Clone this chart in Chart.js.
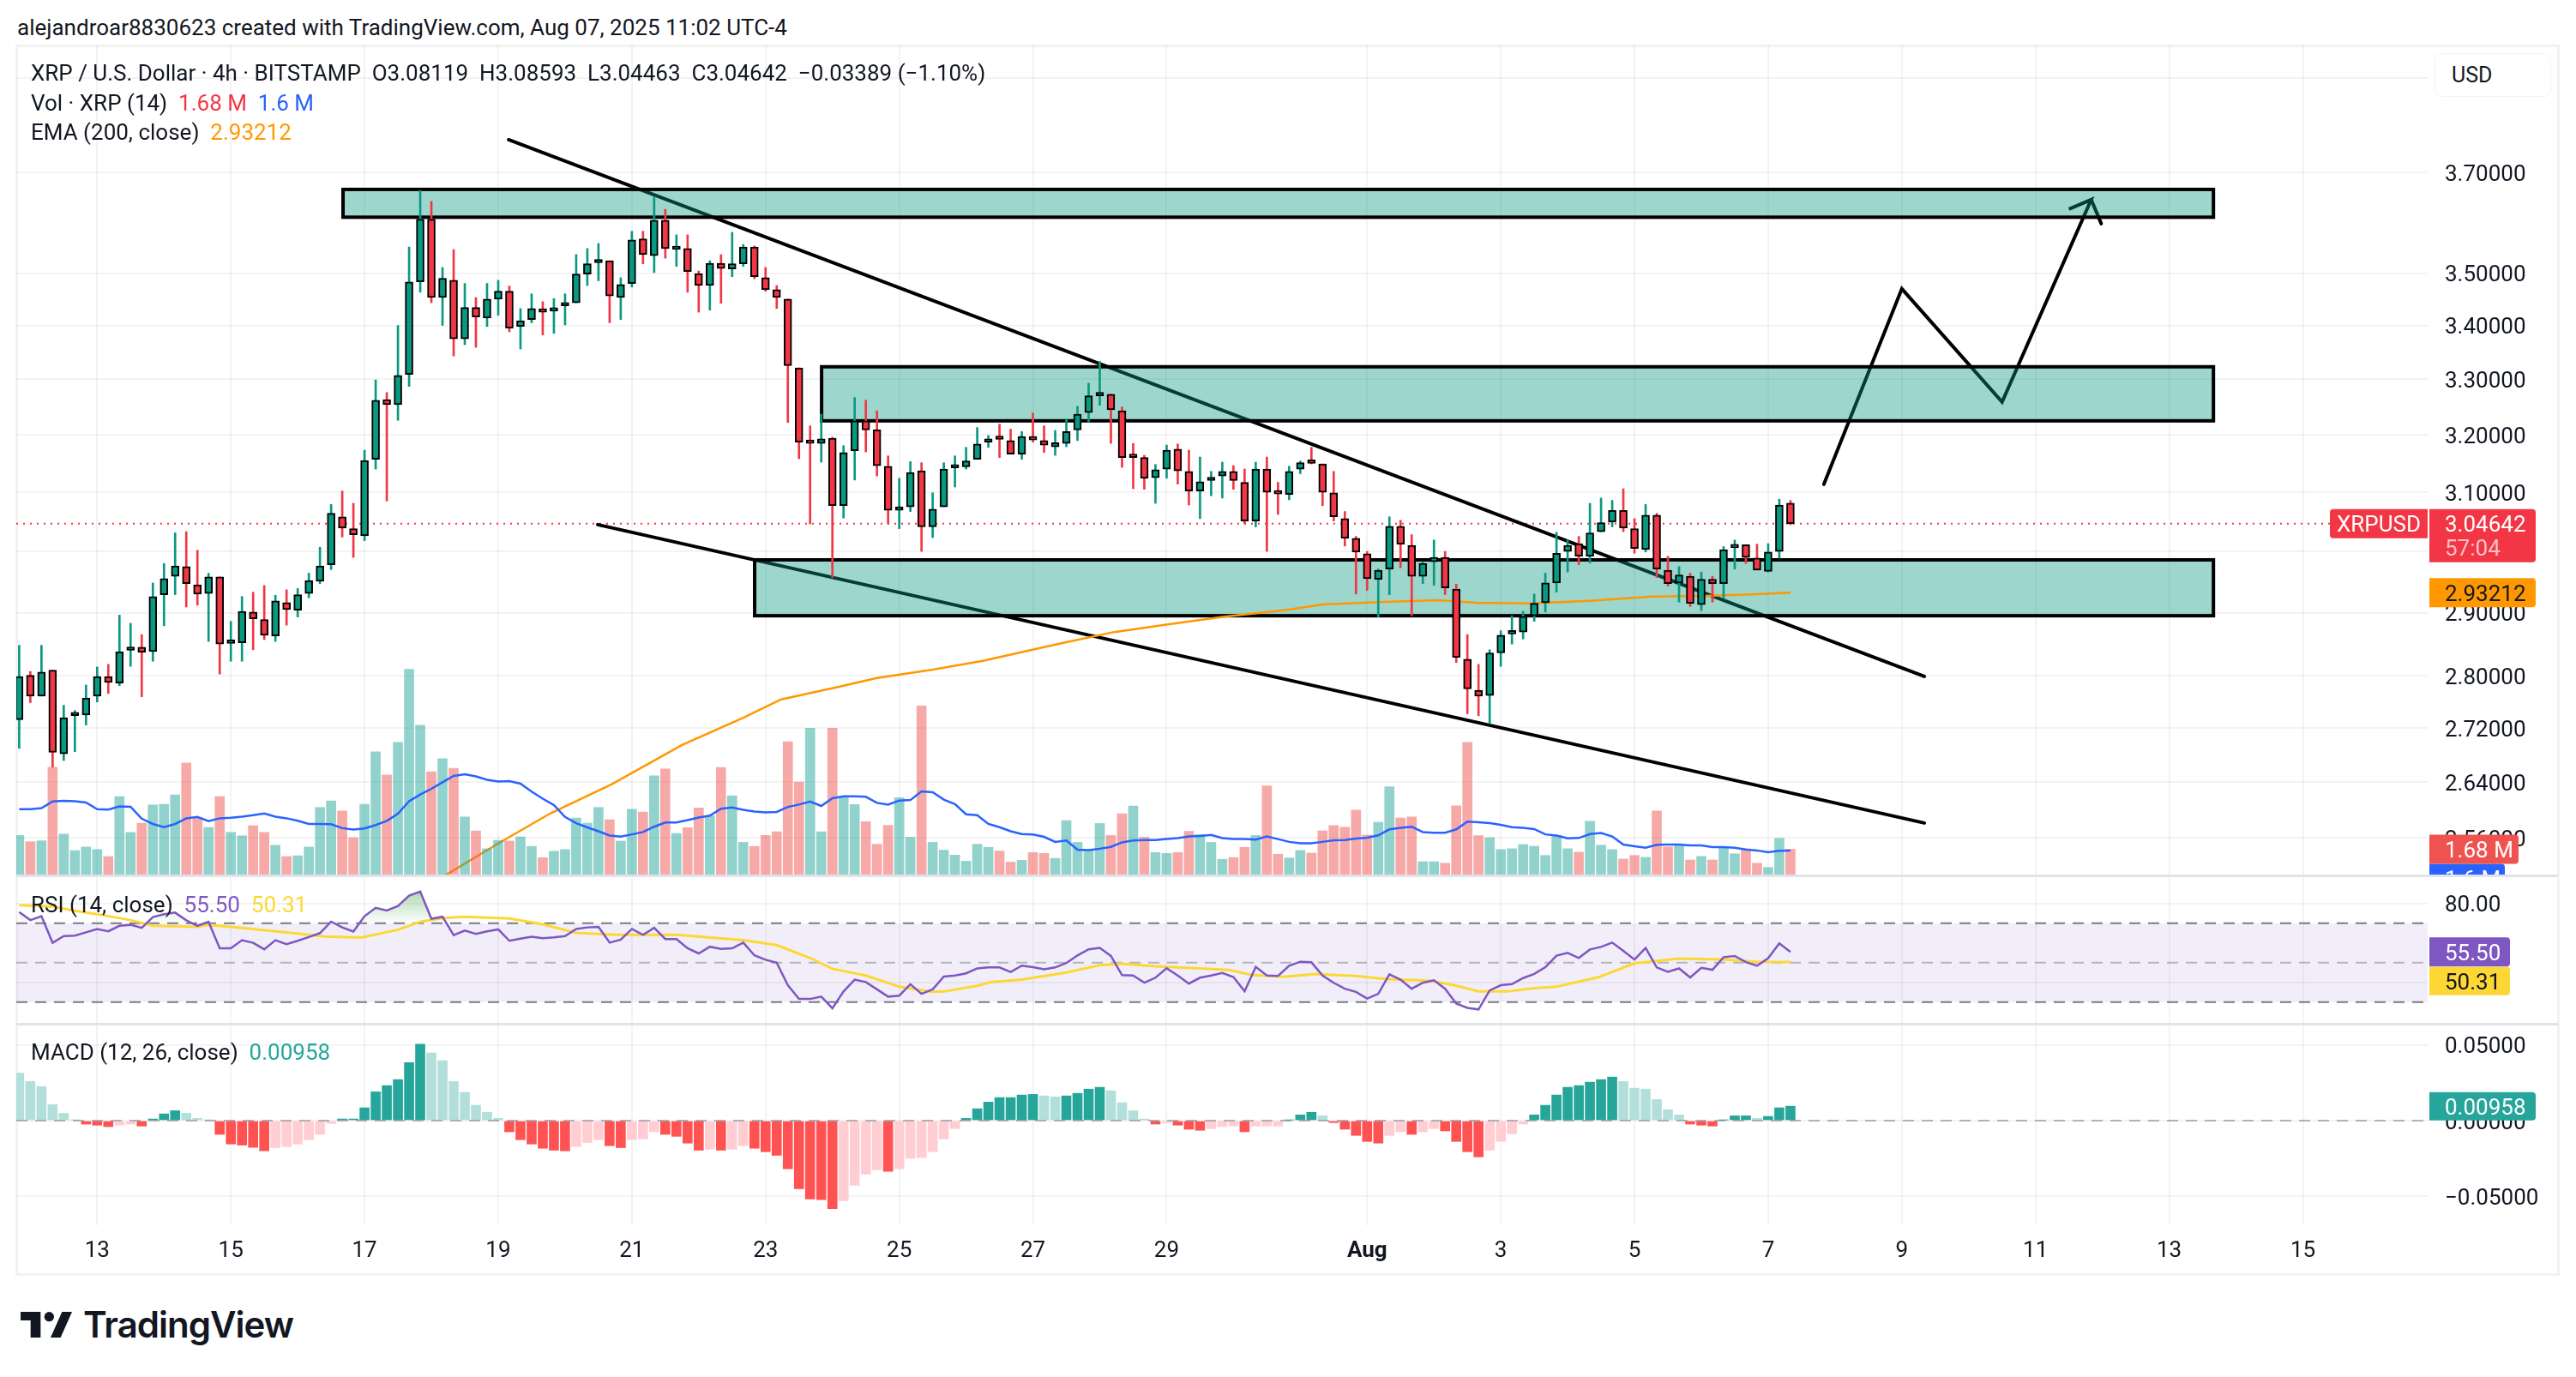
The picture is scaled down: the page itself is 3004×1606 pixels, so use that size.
<!DOCTYPE html>
<html>
<head>
<meta charset="utf-8">
<title>XRP / U.S. Dollar</title>
<script src="https://cdn.jsdelivr.net/npm/chart.js@4"></script>
<style>
  html, body { margin: 0; background: #fff; }
  body { position: relative; width: 3004px; height: 1606px; overflow: hidden; font-family: Roboto, sans-serif; color: #131722; }
  canvas { position: absolute; left: 19px; }
  .txt { position: absolute; white-space: pre; font-size: 26px; line-height: 34px; }
  #frame { position: absolute; left: 18px; top: 52px; width: 2961px; height: 1430px; border: 3px solid #f2f2f3; }
  .sep { position: absolute; left: 19px; width: 2964px; height: 3px; background: #e0e3eb; }
  #usd { position: absolute; left: 2839px; top: 62px; width: 134px; height: 49px; border: 1px solid #f0f3fa; border-radius: 8px; background: #fff; font-size: 25px; line-height: 49px; text-indent: 19px; }
  #logoText { position: absolute; left: 97px; top: 1518px; font: 600 42px/54px Inter, Roboto, sans-serif; letter-spacing: -1px; color: #131722; }
  #logo { position: absolute; left: 24px; top: 1530px; }
</style>
</head>
<body>
<div id="frame"></div>
<canvas id="priceChart" width="2966" height="968" style="top:53px"></canvas>
<canvas id="rsiChart" width="2966" height="173" style="top:1021px"></canvas>
<canvas id="macdChart" width="2966" height="292" style="top:1194px"></canvas>
<div class="sep" style="top:1020px"></div>
<div class="sep" style="top:1193px"></div>
<div class="txt" style="left:20px;top:15px">alejandroar8830623 created with TradingView.com, Aug 07, 2025 11:02 UTC-4</div>
<div class="txt" style="left:36px;top:68px">XRP / U.S. Dollar · 4h · BITSTAMP  O3.08119  H3.08593  L3.04463  C3.04642  −0.03389 (−1.10%)</div>
<div class="txt" style="left:36px;top:103px">Vol · XRP (14)  <span style="color:#f23645">1.68 M</span>  <span style="color:#2962ff">1.6 M</span></div>
<div class="txt" style="left:36px;top:137px">EMA (200, close)  <span style="color:#ff9800">2.93212</span></div>
<div class="txt" style="left:36px;top:1038px">RSI (14, close)  <span style="color:#7e57c2">55.50</span>  <span style="color:#fdd835">50.31</span></div>
<div class="txt" style="left:36px;top:1210px">MACD (12, 26, close)  <span style="color:#26a69a">0.00958</span></div>
<div id="usd">USD</div>
<svg id="logo" width="60" height="30" viewBox="0 0 36 18" preserveAspectRatio="none"><path fill="#131722" d="M14 0H0v6h7v12h7V0zM28 18h-7l8-18h7l-8 18z"/><circle fill="#131722" cx="20" cy="3.4" r="3.4"/></svg>
<div id="logoText">TradingView</div>

<script>
// candles, 4h, oldest first
const open = [
  2.733,2.801,2.769,2.809,2.682,2.739,2.740,2.769,2.799,2.789,
  2.840,2.845,2.838,2.929,2.959,2.975,2.945,2.931,2.958,2.851,
  2.852,2.901,2.889,2.863,2.916,2.904,2.931,2.951,2.978,3.058,
  3.038,3.026,3.157,3.263,3.254,3.309,3.483,3.606,3.453,3.486,
  3.375,3.434,3.414,3.450,3.465,3.398,3.411,3.430,3.427,3.437,
  3.443,3.498,3.520,3.524,3.453,3.480,3.567,3.534,3.604,3.546,
  3.548,3.499,3.476,3.519,3.508,3.518,3.551,3.491,3.468,3.450,
  3.321,3.186,3.185,3.194,3.077,3.172,3.225,3.209,3.145,3.069,
  3.075,3.137,3.041,3.075,3.142,3.144,3.157,3.187,3.193,3.190,
  3.166,3.197,3.190,3.179,3.185,3.209,3.240,3.270,3.273,3.243,
  3.161,3.160,3.125,3.140,3.175,3.136,3.102,3.120,3.128,3.136,
  3.117,3.051,3.140,3.099,3.096,3.140,3.152,3.149,3.099,3.055,
  3.022,2.996,2.954,2.971,3.042,3.010,2.959,2.983,2.990,2.938,
  2.826,2.778,2.770,2.836,2.866,2.869,2.895,2.916,2.948,3.000,
  3.013,2.992,3.033,3.049,3.069,3.038,3.003,3.061,2.969,2.948,
  2.959,2.913,2.954,2.947,3.006,3.011,2.989,2.967,3.000,3.08119
];
const high = [
  2.848,2.807,2.848,2.809,2.755,2.747,2.786,2.814,2.818,2.896,
  2.883,2.865,2.948,2.980,3.031,3.033,3.002,2.964,2.958,2.886,
  2.926,2.933,2.944,2.928,2.937,2.939,2.964,3.007,3.079,3.102,
  3.081,3.173,3.299,3.276,3.400,3.551,3.664,3.642,3.511,3.546,
  3.480,3.453,3.480,3.486,3.475,3.432,3.460,3.445,3.451,3.460,
  3.536,3.548,3.558,3.524,3.491,3.582,3.582,3.651,3.626,3.575,
  3.575,3.504,3.524,3.536,3.580,3.556,3.553,3.511,3.476,3.450,
  3.321,3.216,3.237,3.196,3.181,3.267,3.262,3.243,3.163,3.124,
  3.153,3.151,3.099,3.151,3.163,3.178,3.213,3.199,3.219,3.210,
  3.206,3.239,3.216,3.208,3.228,3.251,3.293,3.333,3.273,3.250,
  3.185,3.164,3.148,3.182,3.184,3.173,3.161,3.136,3.152,3.146,
  3.140,3.152,3.161,3.117,3.145,3.154,3.178,3.149,3.136,3.067,
  3.025,3.000,2.971,3.058,3.052,3.028,2.983,3.019,3.000,2.946,
  2.865,2.818,2.841,2.871,2.895,2.902,2.930,2.964,3.032,3.019,
  3.025,3.081,3.090,3.086,3.106,3.055,3.079,3.064,2.992,2.975,
  2.964,2.966,2.959,3.008,3.019,3.011,3.012,3.013,3.088,3.08593
];
const low = [
  2.690,2.759,2.769,2.662,2.672,2.685,2.725,2.760,2.773,2.785,
  2.815,2.768,2.823,2.879,2.929,2.909,2.912,2.854,2.803,2.823,
  2.823,2.841,2.857,2.854,2.880,2.893,2.924,2.947,2.970,3.024,
  2.990,3.018,3.140,3.085,3.226,3.287,3.463,3.443,3.400,3.343,
  3.364,3.359,3.398,3.419,3.388,3.356,3.405,3.382,3.385,3.401,
  3.443,3.476,3.485,3.405,3.411,3.473,3.518,3.501,3.529,3.513,
  3.463,3.425,3.429,3.442,3.493,3.513,3.489,3.465,3.432,3.222,
  3.158,3.046,3.152,2.957,3.056,3.121,3.170,3.128,3.046,3.038,
  3.067,3.000,3.023,3.075,3.109,3.140,3.157,3.178,3.160,3.166,
  3.157,3.187,3.169,3.164,3.179,3.190,3.223,3.253,3.185,3.143,
  3.106,3.105,3.081,3.124,3.114,3.078,3.055,3.094,3.090,3.105,
  3.046,3.041,3.000,3.062,3.087,3.132,3.149,3.077,3.051,3.009,
  2.930,2.936,2.893,2.929,2.973,2.895,2.947,2.944,2.929,2.821,
  2.742,2.739,2.727,2.815,2.850,2.858,2.886,2.901,2.933,2.966,
  2.978,2.981,3.033,3.041,3.033,2.997,2.999,2.957,2.943,2.917,
  2.910,2.903,2.917,2.923,2.971,2.980,2.969,2.966,2.989,3.04463
];
const close = [
  2.799,2.769,2.806,2.684,2.736,2.740,2.766,2.799,2.790,2.838,
  2.845,2.837,2.926,2.955,2.976,2.947,2.930,2.958,2.850,2.852,
  2.902,2.890,2.864,2.919,2.905,2.929,2.952,2.976,3.064,3.039,
  3.028,3.155,3.262,3.254,3.307,3.483,3.606,3.453,3.490,3.375,
  3.434,3.416,3.450,3.465,3.395,3.409,3.432,3.425,3.433,3.442,
  3.498,3.518,3.521,3.456,3.478,3.565,3.536,3.604,3.548,3.551,
  3.503,3.476,3.519,3.509,3.518,3.551,3.493,3.468,3.453,3.325,
  3.187,3.185,3.193,3.077,3.169,3.225,3.209,3.146,3.069,3.075,
  3.134,3.041,3.071,3.140,3.143,3.154,3.184,3.191,3.192,3.166,
  3.197,3.191,3.182,3.186,3.206,3.237,3.270,3.272,3.245,3.160,
  3.160,3.124,3.139,3.173,3.137,3.102,3.118,3.125,3.136,3.120,
  3.051,3.140,3.100,3.097,3.136,3.151,3.150,3.100,3.058,3.022,
  2.999,2.955,2.969,3.042,3.012,2.959,2.980,2.990,2.940,2.829,
  2.780,2.769,2.836,2.864,2.868,2.894,2.915,2.948,2.997,3.010,
  2.992,3.031,3.048,3.069,3.039,3.005,3.061,2.971,2.947,2.961,
  2.915,2.954,2.947,3.003,3.011,2.990,2.969,2.999,3.078,3.04642
];
// volume in millions XRP, and its 14 period average
const volume = [
  2.56,2.16,2.22,6.94,2.65,1.59,1.82,1.66,1.21,5.05,
  2.76,3.35,4.51,4.56,5.16,7.21,3.68,3.08,5.05,2.76,
  2.54,3.19,2.76,1.93,1.21,1.26,1.82,4.36,4.78,4.13,
  2.42,4.56,7.92,6.44,8.53,13.22,9.63,6.65,7.48,6.87,
  3.75,2.85,1.71,2.25,2.20,2.47,1.86,1.14,1.55,1.66,
  3.68,3.35,4.36,3.57,2.20,4.24,4.06,6.38,6.82,2.69,
  3.06,4.33,3.83,6.92,5.10,2.12,1.86,2.56,2.80,8.57,
  5.98,9.43,2.80,9.43,5.01,4.54,3.45,2.00,3.21,4.98,
  2.45,10.87,2.12,1.62,1.30,0.91,2.00,1.80,1.56,0.85,
  0.97,1.47,1.41,1.09,3.51,2.12,1.62,3.33,2.56,3.95,
  4.45,2.45,1.47,1.41,1.47,2.83,2.62,2.12,1.03,1.15,
  1.80,2.56,5.74,1.36,1.12,1.60,1.43,2.86,3.20,3.09,
  4.19,2.59,3.41,5.68,3.68,3.75,0.88,0.88,0.78,4.46,
  8.53,2.55,2.42,1.66,1.71,1.98,1.87,1.28,2.57,1.71,
  1.49,3.47,1.94,1.66,1.05,1.28,1.16,4.13,1.83,1.98,
  0.99,1.22,0.99,1.77,1.39,1.66,0.78,0.51,2.38,1.68
];
const volumeMa = [
  4.24,4.24,4.31,4.74,4.78,4.76,4.67,4.24,4.22,4.42,
  4.40,3.64,3.30,3.10,3.30,3.66,3.75,3.48,3.66,3.70,
  3.77,3.86,3.97,3.77,3.66,3.50,3.30,3.30,3.28,3.03,
  2.94,3.01,3.23,3.50,3.95,4.76,5.19,5.55,5.97,6.38,
  6.49,6.35,6.13,6.02,6.04,5.88,5.37,4.92,4.51,3.75,
  3.35,3.08,2.83,2.56,2.49,2.63,2.78,3.12,3.39,3.39,
  3.54,3.71,3.83,4.27,4.36,4.21,4.09,4.04,4.07,4.39,
  4.54,4.74,4.45,4.95,5.07,5.07,5.04,4.65,4.54,4.80,
  4.83,5.39,5.33,4.86,4.57,3.92,3.86,3.30,3.09,2.83,
  2.65,2.62,2.47,2.15,2.24,1.65,1.62,1.71,1.83,2.12,
  2.24,2.27,2.27,2.33,2.39,2.50,2.53,2.59,2.39,2.33,
  2.33,2.30,2.50,2.33,2.15,2.06,2.06,2.15,2.25,2.27,
  2.36,2.42,2.57,2.95,3.05,3.12,2.78,2.74,2.74,2.95,
  3.45,3.41,3.35,3.24,3.09,3.05,2.97,2.63,2.55,2.38,
  2.40,2.65,2.72,2.50,1.98,1.87,1.77,1.96,1.98,1.98,
  1.92,1.92,1.81,1.81,1.77,1.66,1.60,1.49,1.58,1.60
];
// volume bars that are teal although the candle closed lower
const volumeUpExtra = [71, 100];

const emaIdx = [38,43,47.7,53.2,59.5,65,68.4,73.5,77,82,86.6,90.7,94,98.3,102.7,108,113.7,117,122,127.4,130.8,135.6,141,146.6,151.4,155,159];
const emaVal = [2.505,2.552,2.595,2.637,2.695,2.736,2.764,2.783,2.797,2.810,2.824,2.840,2.853,2.869,2.880,2.893,2.904,2.913,2.917,2.920,2.916,2.915,2.919,2.926,2.927,2.929,2.93212];

const rsi = [
  75.7,71.6,73.6,60.1,63.5,63.7,65.4,67.1,65.9,68.7,
  69.2,67.7,73.1,74.6,75.4,71.5,68.7,70.7,57.3,57.3,
  61.4,60.1,56.8,61.4,59.4,61.1,63.0,65.0,70.8,67.9,
  65.8,73.6,77.8,76.5,78.8,84.0,86.1,72.3,73.3,64.0,
  66.3,64.6,65.9,66.9,61.1,62.2,63.2,62.4,62.8,63.5,
  67.1,67.9,68.2,60.2,61.7,67.1,64.1,67.7,62.0,62.0,
  57.3,54.7,58.1,57.0,57.3,60.2,53.7,51.5,50.0,38.6,
  31.6,31.6,32.8,26.9,35.4,41.4,40.2,36.5,32.8,33.3,
  39.1,34.2,36.5,43.0,43.5,44.6,47.1,47.6,47.6,45.3,
  48.5,47.7,46.7,47.6,49.8,53.7,56.8,57.5,53.4,43.7,
  43.5,39.9,42.4,47.2,43.5,39.4,42.4,43.5,44.8,42.7,
  35.5,47.9,43.5,43.3,48.5,50.5,50.2,43.5,39.8,36.8,
  35.2,31.8,34.2,44.1,41.4,36.8,39.8,41.1,36.8,29.3,
  27.1,26.3,35.9,38.6,39.1,42.2,44.3,47.7,53.6,55.0,
  52.4,56.7,58.0,60.2,56.0,51.6,57.5,47.6,45.4,47.1,
  42.5,47.4,46.4,52.8,53.4,50.3,48.4,52.3,59.8,55.5
];
const rsiMaIdx = [0,3,5,7.5,10,12,16,17,20,24,27.4,30.7,34,36,38,40,44,47,50,53.5,59,65,68,71,73,76,79,82,83,86,87.2,90,94,97,99,102,106,108.6,110.6,113.5,116.4,120,122.8,126.6,128.8,131,133.6,135.8,138,141.8,145,149,153,155.9,159];
const rsiMaVal = [79.1,78.5,76.3,74.1,71.6,68.7,68.2,69.2,67.6,65.3,63.3,62.7,66.7,70.7,72.6,73.3,72.4,69.5,65.1,64.1,64.1,61.4,58.9,52.4,46.9,43.5,37.8,35.2,35.4,38.3,40.1,41.4,45.0,48.7,49.5,48.2,47.1,46.3,43.8,42.8,44.3,43.3,41.7,40.9,38.6,35.5,35.4,37.0,37.8,42.7,49.7,52.1,51.6,50.5,50.31];

const macdHist = [
  .0315,.0260,.0226,.0106,.0049,.0004,-.0023,-.0030,-.0040,-.0030,
  -.0023,-.0036,.0011,.0045,.0066,.0049,.0015,.0004,-.0091,-.0155,
  -.0162,-.0177,-.0200,-.0179,-.0172,-.0155,-.0126,-.0091,-.0019,.0011,
  .0011,.0085,.0191,.0232,.0272,.0385,.0506,.0449,.0398,.0260,
  .0187,.0102,.0055,.0015,-.0074,-.0126,-.0155,-.0183,-.0196,-.0200,
  -.0172,-.0145,-.0126,-.0166,-.0179,-.0126,-.0121,-.0074,-.0091,-.0104,
  -.0149,-.0196,-.0189,-.0196,-.0189,-.0166,-.0183,-.0206,-.0230,-.0319,
  -.0451,-.0519,-.0523,-.0583,-.0530,-.0428,-.0355,-.0326,-.0336,-.0319,
  -.0251,-.0245,-.0206,-.0121,-.0053,.0015,.0079,.0123,.0153,.0153,
  .0170,.0174,.0164,.0157,.0164,.0181,.0209,.0221,.0198,.0119,
  .0066,.0011,-.0023,-.0013,-.0030,-.0057,-.0064,-.0053,-.0040,-.0036,
  -.0074,-.0036,-.0036,-.0036,.0004,.0038,.0055,.0032,-.0013,-.0057,
  -.0098,-.0138,-.0149,-.0098,-.0074,-.0091,-.0074,-.0053,-.0068,-.0138,
  -.0206,-.0240,-.0196,-.0138,-.0087,-.0023,.0038,.0102,.0170,.0221,
  .0232,.0255,.0272,.0289,.0260,.0215,.0209,.0140,.0072,.0038,
  -.0023,-.0030,-.0036,.0004,.0032,.0032,.0015,.0028,.0085,.00958
];

// axis ticks
const priceTicks = [3.9,3.7,3.5,3.4,3.3,3.2,3.1,3.0,2.9,2.8,2.72,2.64,2.56];
const rsiTicks = [80,40];
const macdTicks = [0.05,0,-0.05];
const timeTickIdx = [7,19,31,43,55,67,79,91,103,121,133,145,157,169,181,193,205];
const timeLabels = ['13','15','17','19','21','23','25','27','29','Aug','3','5','7','9','11','13','15'];

// drawings on the price pane, x in candle numbers, y in USD
const zones = [
  { from: 29.07, to: 196.97, top: 3.666, bottom: 3.610 },
  { from: 72.03, to: 196.97, top: 3.323, bottom: 3.225 },
  { from: 66.02, to: 196.97, top: 2.986, bottom: 2.895 }
];
const upperLine = [{ x: 43.93, y: 3.7683 }, { x: 171.02, y: 2.7994 }];
const lowerLine = [{ x: 51.93, y: 3.0448 }, { x: 171.02, y: 2.5811 }];
const arrowLine = [
  { x: 162, y: 3.1136 }, { x: 169, y: 3.4696 }, { x: 178, y: 3.2588 }, { x: 186, y: 3.6453 },
  { x: 184, y: 3.6263 }, { x: 186, y: 3.6453 }, { x: 186.9, y: 3.5971 }
];

const lastPrice = 3.04642, lastEma = 2.93212, lastVol = 1.68, lastVolMa = 1.6;
const lastRsi = 55.50, lastRsiMa = 50.31, lastMacd = 0.00958;

const UP = '#089981', DOWN = '#f23645', INK = '#131722';
const GRID = 'rgba(42,46,57,0.06)';
const FONT = 'Roboto, sans-serif';
const AXIS_W = 154;

const isUp = i => close[i] >= open[i];
const idx = open.map((_, i) => i);
const pts = (xs, ys) => ys.map((y, i) => ({ x: xs[i], y }));

function xAxis(bottomHeight) {
  return {
    type: 'linear', min: -0.26, max: 216.2, offset: false,
    grid: { color: GRID, lineWidth: 2, drawTicks: false, offset: false },
    border: { display: false },
    afterBuildTicks: s => { s.ticks = timeTickIdx.map(v => ({ value: v })); },
    afterFit: s => { s.height = bottomHeight; s.paddingLeft = 0; s.paddingRight = 0; },
    ticks: {
      display: bottomHeight > 0, autoSkip: false, maxRotation: 0, padding: 15, color: INK,
      font: c => ({ family: FONT, size: 26, weight: c.tick && c.tick.label === 'Aug' ? 'bold' : 'normal' }),
      callback: v => timeLabels[timeTickIdx.indexOf(v)]
    }
  };
}

function yAxis(opts, ticks, digits) {
  return Object.assign({
    position: 'right',
    grid: { color: GRID, lineWidth: 2, drawTicks: false },
    border: { display: false },
    afterBuildTicks: s => { s.ticks = ticks.map(v => ({ value: v })); },
    afterFit: s => { s.width = AXIS_W; s.paddingTop = 0; s.paddingBottom = 0; },
    ticks: {
      autoSkip: false, padding: 20, labelOffset: 3, color: INK, font: { family: FONT, size: 26 },
      callback: v => v.toFixed(digits).replace('-', '−')
    }
  }, opts);
}

const baseOptions = {
  responsive: false, animation: false, devicePixelRatio: 1,
  layout: { padding: 0 },
  plugins: { legend: { display: false }, tooltip: { enabled: false } }
};

function valueTag(ctx, left, y, w, h, fill, text, textColor) {
  ctx.fillStyle = fill;
  ctx.beginPath();
  ctx.roundRect(left, y - h / 2, w, h, [0, 4, 4, 0]);
  ctx.fill();
  ctx.fillStyle = textColor;
  ctx.font = '26px ' + FONT;
  ctx.textBaseline = 'middle';
  ctx.textAlign = 'left';
  ctx.fillText(text, left + 18, y + 3);
}

const priceOverlay = {
  id: 'priceOverlay',
  beforeDatasetsDraw(chart) {
    const { ctx, chartArea, scales } = chart;
    const y = scales.y.getPixelForValue(lastPrice);
    ctx.save();
    ctx.strokeStyle = DOWN;
    ctx.lineWidth = 2;
    ctx.setLineDash([2, 6]);
    ctx.beginPath();
    ctx.moveTo(chartArea.left, y);
    ctx.lineTo(chartArea.right, y);
    ctx.stroke();
    ctx.restore();
  },
  // zones sit over the trend lines but under the candles
  afterDatasetDraw(chart, args) {
    if (chart.data.datasets[args.index].label !== 'Arrow') return;
    const { ctx, scales } = chart;
    ctx.save();
    zones.forEach(z => {
      const l = scales.x.getPixelForValue(z.from), r = scales.x.getPixelForValue(z.to);
      const t = scales.y.getPixelForValue(z.top), b = scales.y.getPixelForValue(z.bottom);
      ctx.fillStyle = 'rgba(8,153,129,0.4)';
      ctx.fillRect(l, t, r - l, b - t);
      ctx.strokeStyle = '#000';
      ctx.lineWidth = 4;
      ctx.strokeRect(l, t, r - l, b - t);
    });
    ctx.restore();
  },
  afterDraw(chart) {
    const { ctx, chartArea, scales } = chart;
    const left = chartArea.right + 2;
    const py = scales.y.getPixelForValue(lastPrice);
    ctx.save();
    // symbol name, price with countdown
    ctx.fillStyle = DOWN;
    ctx.beginPath();
    ctx.roundRect(chartArea.right - 114, py - 17, 114, 34, [4, 0, 0, 4]);
    ctx.fill();
    ctx.fillStyle = '#fff';
    ctx.font = '26px ' + FONT;
    ctx.textBaseline = 'middle';
    ctx.textAlign = 'center';
    ctx.fillText('XRPUSD', chartArea.right - 57, py + 3);
    ctx.fillStyle = DOWN;
    ctx.beginPath();
    ctx.roundRect(left, py - 17, 124, 62, [0, 4, 4, 0]);
    ctx.fill();
    ctx.textAlign = 'left';
    ctx.fillStyle = '#fff';
    ctx.fillText(lastPrice.toFixed(5), left + 18, py + 3);
    ctx.fillStyle = 'rgba(255,255,255,0.7)';
    ctx.fillText('57:04', left + 18, py + 31);
    valueTag(ctx, left, scales.y.getPixelForValue(lastEma), 124, 34, '#ff9800', lastEma.toFixed(5), INK);
    // the average tag is pushed under the volume tag and cut by the pane edge
    const vy = scales.vol.getPixelForValue(lastVol);
    valueTag(ctx, left, vy + 34, 88, 34, '#2962ff', lastVolMa.toFixed(1) + ' M', '#fff');
    valueTag(ctx, left, vy, 104, 34, '#ef5350', lastVol.toFixed(2) + ' M', '#fff');
    ctx.restore();
  }
};

new Chart(document.getElementById('priceChart'), {
  type: 'bar',
  data: {
    datasets: [
      { type: 'line', label: 'Upper trend', data: upperLine, yAxisID: 'y', borderColor: '#000', borderWidth: 4, pointRadius: 0, borderCapStyle: 'round', order: 13 },
      { type: 'line', label: 'Lower trend', data: lowerLine, yAxisID: 'y', borderColor: '#000', borderWidth: 4, pointRadius: 0, borderCapStyle: 'round', order: 12 },
      { type: 'line', label: 'Arrow', data: arrowLine, yAxisID: 'y', borderColor: '#000', borderWidth: 4, pointRadius: 0, borderCapStyle: 'round', order: 11 },
      { type: 'line', label: 'EMA', data: pts(emaIdx, emaVal), yAxisID: 'y', borderColor: '#ff9800', borderWidth: 2.5, pointRadius: 0, order: 9 },
      { label: 'Volume', data: pts(idx, volume), yAxisID: 'vol', barThickness: 11, grouped: false, order: 8,
        backgroundColor: idx.map(i => (isUp(i) || volumeUpExtra.includes(i)) ? 'rgba(38,166,154,0.5)' : 'rgba(239,83,80,0.5)') },
      { type: 'line', label: 'Volume MA', data: pts(idx, volumeMa), yAxisID: 'vol', borderColor: '#2962ff', borderWidth: 2.5, pointRadius: 0, order: 7 },
      { label: 'Wick', data: idx.map(i => ({ x: i, y: [low[i], high[i]] })), yAxisID: 'y', barThickness: 2, grouped: false, order: 6,
        backgroundColor: idx.map(i => isUp(i) ? UP : DOWN) },
      { label: 'Body', data: idx.map(i => ({ x: i, y: [Math.min(open[i], close[i]), Math.max(open[i], close[i])] })), yAxisID: 'y',
        barThickness: 9, grouped: false, order: 5, minBarLength: 4, borderSkipped: false, borderWidth: 2, borderColor: '#000',
        backgroundColor: idx.map(i => isUp(i) ? UP : DOWN) }
    ]
  },
  options: Object.assign({}, baseOptions, {
    scales: {
      x: xAxis(0),
      y: yAxis({ type: 'logarithmic', min: 2.5072, max: 3.9703 }, priceTicks, 5),
      vol: { type: 'linear', display: false, position: 'left', min: 0, max: 53.2 }
    }
  }),
  plugins: [priceOverlay]
});

const rsiOverlay = {
  id: 'rsiOverlay',
  beforeDatasetsDraw(chart) {
    const { ctx, chartArea, scales } = chart;
    const y70 = scales.y.getPixelForValue(70), y50 = scales.y.getPixelForValue(50), y30 = scales.y.getPixelForValue(30);
    ctx.save();
    ctx.fillStyle = 'rgba(126,87,194,0.1)';
    ctx.fillRect(chartArea.left, y70, chartArea.right - chartArea.left, y30 - y70);
    ctx.lineWidth = 2;
    ctx.setLineDash([13, 9]);
    [[y70, '#787b86'], [y50, 'rgba(120,123,134,0.5)'], [y30, '#787b86']].forEach(([y, c]) => {
      ctx.strokeStyle = c;
      ctx.beginPath();
      ctx.moveTo(chartArea.left, y);
      ctx.lineTo(chartArea.right, y);
      ctx.stroke();
    });
    ctx.restore();
  },
  afterDraw(chart) {
    const { ctx, chartArea, scales } = chart;
    const left = chartArea.right + 2;
    const y = scales.y.getPixelForValue(lastRsi);
    ctx.save();
    valueTag(ctx, left, y, 94, 34, '#7e57c2', lastRsi.toFixed(2), '#fff');
    valueTag(ctx, left, y + 34, 94, 33, '#fdd835', lastRsiMa.toFixed(2), INK);
    ctx.restore();
  }
};

const rsiCanvas = document.getElementById('rsiChart');
const rsiGlow = rsiCanvas.getContext('2d').createLinearGradient(0, 15, 0, 56);
rsiGlow.addColorStop(0, 'rgba(76,175,80,0.5)');
rsiGlow.addColorStop(1, 'rgba(76,175,80,0)');

new Chart(rsiCanvas, {
  type: 'line',
  data: {
    datasets: [
      { label: 'RSI MA', data: pts(rsiMaIdx, rsiMaVal), borderColor: '#fdd835', borderWidth: 3, pointRadius: 0, order: 2 },
      { label: 'RSI', data: pts(idx, rsi), borderColor: '#7e57c2', borderWidth: 2.5, pointRadius: 0, order: 1,
        fill: { target: { value: 70 }, above: rsiGlow, below: 'rgba(0,0,0,0)' } }
    ]
  },
  options: Object.assign({}, baseOptions, {
    scales: {
      x: xAxis(0),
      y: yAxis({ type: 'linear', min: 19.04, max: 94.26 }, rsiTicks, 2)
    }
  }),
  plugins: [rsiOverlay]
});

const macdOverlay = {
  id: 'macdOverlay',
  afterDatasetsDraw(chart) {
    const { ctx, chartArea, scales } = chart;
    const y = scales.y.getPixelForValue(0);
    ctx.save();
    ctx.strokeStyle = 'rgba(120,123,134,0.55)';
    ctx.lineWidth = 2;
    ctx.setLineDash([13, 9]);
    ctx.beginPath();
    ctx.moveTo(chartArea.left, y);
    ctx.lineTo(chartArea.right, y);
    ctx.stroke();
    ctx.restore();
  },
  afterDraw(chart) {
    const { ctx, chartArea, scales } = chart;
    ctx.save();
    valueTag(ctx, chartArea.right + 2, scales.y.getPixelForValue(lastMacd), 124, 33, '#26a69a', lastMacd.toFixed(5), '#fff');
    ctx.restore();
  }
};

// histogram colour follows direction against the previous bar
function macdColor(i) {
  const v = macdHist[i];
  const rising = i > 0 && v >= macdHist[i - 1];
  if (v >= 0) return rising ? '#26a69a' : '#b2dfdb';
  return rising ? '#ffcdd2' : '#ff5252';
}

new Chart(document.getElementById('macdChart'), {
  type: 'bar',
  data: {
    datasets: [
      { label: 'MACD histogram', data: pts(idx, macdHist), barThickness: 11, grouped: false, backgroundColor: idx.map(macdColor) }
    ]
  },
  options: Object.assign({}, baseOptions, {
    scales: {
      x: xAxis(57),
      y: yAxis({ type: 'linear', min: -0.0693, max: 0.0642 }, macdTicks, 5)
    }
  }),
  plugins: [macdOverlay]
});
</script>
</body>
</html>
